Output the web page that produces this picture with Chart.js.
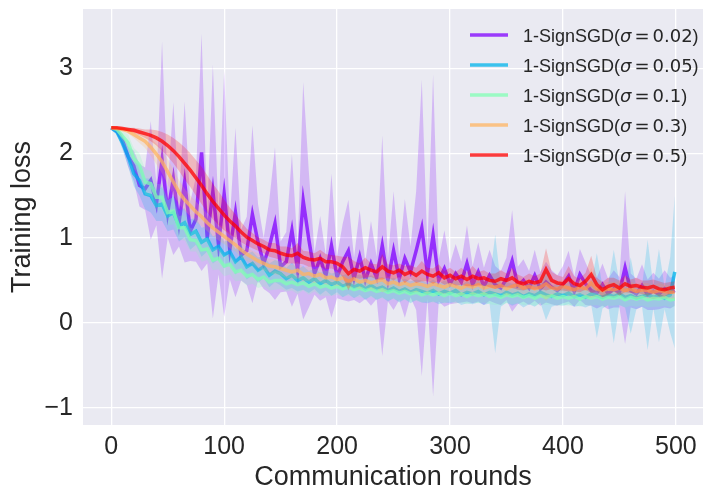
<!DOCTYPE html>
<html lang="en">
<head>
<meta charset="UTF-8">
<title>Training loss</title>
<script src="https://cdn.jsdelivr.net/npm/chart.js"></script>
<style>
  html, body { margin: 0; padding: 0; background: #fff; }
  canvas { display: block; }
</style>
</head>
<body>
<canvas id="lossChart" width="716" height="502"></canvas>
<script>
// communication rounds sampled every 5 (plus the last one)
const rounds = Array.from({length: 100}, (_, i) => i * 5).concat([499]);

const sigmas = ['0.02', '0.05', '0.1', '0.3', '0.5'];
const xTicks = [0, 100, 200, 300, 400, 500];
const yTicks = [-1, 0, 1, 2, 3];

// mean training loss, one value per entry of rounds
const lossS002 = [
  2.30,2.26,2.15,1.96,1.85,1.62,1.58,1.68,1.40,1.92,
  1.30,1.70,1.18,1.66,1.08,1.22,2.01,1.00,1.55,0.92,
  1.52,0.86,1.30,0.80,0.85,1.28,0.95,0.70,0.90,1.17,
  0.66,0.72,1.09,0.62,1.44,0.98,0.58,0.76,0.55,0.91,
  0.54,0.72,0.85,0.52,0.78,0.50,0.70,0.53,0.91,0.50,
  0.85,0.52,0.76,0.60,0.85,1.12,0.58,1.03,0.50,0.64,
  0.46,0.58,0.48,0.70,0.45,0.60,0.43,0.56,0.45,0.41,
  0.52,0.73,0.44,0.50,0.41,0.56,0.40,0.48,0.42,0.38,
  0.45,0.55,0.37,0.57,0.46,0.38,0.35,0.45,0.34,0.40,
  0.36,0.65,0.38,0.34,0.44,0.33,0.37,0.34,0.40,0.35,
  0.38];
const lossS005 = [
  2.30,2.25,2.12,1.96,1.76,1.68,1.52,1.50,1.38,1.40,
  1.26,1.30,1.14,1.18,1.04,1.08,0.95,0.99,0.86,0.90,
  0.80,0.84,0.72,0.78,0.66,0.70,0.62,0.66,0.56,0.61,
  0.58,0.52,0.56,0.50,0.53,0.48,0.52,0.46,0.50,0.45,
  0.48,0.43,0.46,0.42,0.45,0.40,0.44,0.40,0.42,0.38,
  0.41,0.37,0.40,0.36,0.39,0.37,0.35,0.38,0.34,0.37,
  0.35,0.38,0.33,0.36,0.34,0.37,0.33,0.36,0.34,0.32,
  0.36,0.33,0.35,0.31,0.34,0.32,0.36,0.33,0.31,0.34,
  0.32,0.35,0.31,0.33,0.30,0.34,0.32,0.30,0.33,0.31,
  0.34,0.30,0.32,0.29,0.31,0.33,0.30,0.32,0.29,0.33,
  0.60];
const lossS01 = [
  2.30,2.28,2.20,2.12,1.94,1.86,1.66,1.64,1.48,1.48,
  1.30,1.32,1.12,1.12,0.98,0.97,0.86,0.87,0.74,0.76,
  0.67,0.69,0.60,0.62,0.55,0.57,0.51,0.54,0.48,0.50,
  0.50,0.46,0.48,0.45,0.47,0.43,0.46,0.42,0.44,0.41,
  0.43,0.40,0.42,0.39,0.41,0.38,0.40,0.37,0.39,0.36,
  0.38,0.35,0.37,0.34,0.36,0.33,0.35,0.33,0.35,0.32,
  0.35,0.32,0.34,0.31,0.34,0.32,0.34,0.31,0.33,0.30,
  0.33,0.31,0.33,0.30,0.32,0.29,0.32,0.30,0.32,0.29,
  0.31,0.29,0.31,0.28,0.31,0.29,0.31,0.28,0.30,0.29,
  0.31,0.27,0.30,0.28,0.30,0.27,0.29,0.28,0.30,0.27,
  0.28];
const lossS03 = [
  2.30,2.29,2.28,2.26,2.22,2.18,2.14,2.07,1.99,1.90,
  1.78,1.66,1.54,1.45,1.38,1.31,1.25,1.18,1.12,1.07,
  1.02,0.97,0.92,0.86,0.81,0.77,0.73,0.70,0.67,0.66,
  0.64,0.62,0.60,0.62,0.57,0.58,0.55,0.57,0.53,0.54,
  0.51,0.53,0.49,0.52,0.48,0.50,0.47,0.49,0.51,0.46,
  0.48,0.45,0.47,0.44,0.46,0.45,0.43,0.46,0.44,0.42,
  0.45,0.43,0.41,0.44,0.42,0.45,0.41,0.43,0.42,0.44,
  0.40,0.43,0.45,0.41,0.43,0.40,0.42,0.46,0.41,0.40,
  0.43,0.41,0.39,0.42,0.40,0.47,0.40,0.38,0.40,0.39,
  0.41,0.38,0.40,0.37,0.39,0.38,0.36,0.38,0.37,0.36,
  0.36];
const lossS05 = [
  2.30,2.30,2.29,2.28,2.27,2.25,2.23,2.21,2.18,2.14,
  2.09,2.03,1.96,1.88,1.80,1.71,1.62,1.52,1.43,1.35,
  1.27,1.20,1.14,1.07,1.01,0.97,0.93,0.90,0.86,0.85,
  0.82,0.80,0.79,0.82,0.77,0.75,0.74,0.76,0.72,0.72,
  0.70,0.66,0.58,0.63,0.61,0.65,0.62,0.60,0.66,0.61,
  0.59,0.62,0.57,0.60,0.56,0.61,0.57,0.55,0.59,0.53,
  0.56,0.52,0.55,0.51,0.55,0.52,0.53,0.50,0.49,0.52,
  0.50,0.53,0.48,0.46,0.49,0.47,0.49,0.63,0.50,0.47,
  0.46,0.52,0.46,0.44,0.49,0.57,0.45,0.39,0.43,0.45,
  0.41,0.46,0.43,0.44,0.42,0.41,0.43,0.40,0.39,0.41,
  0.42];

// spread of the shaded band (mean +/- spread)
const spreadS002 = [
  0.00,0.03,0.08,0.12,0.18,0.25,0.25,0.70,0.25,1.40,
  0.30,0.90,0.28,0.95,0.35,0.50,1.40,0.30,1.50,0.35,
  1.45,0.35,1.00,0.30,0.40,1.05,0.45,0.30,0.55,0.90,
  0.30,0.35,0.90,0.28,1.40,0.80,0.25,0.50,0.25,0.85,
  0.25,0.45,0.60,0.25,0.55,0.22,0.50,0.25,1.30,0.25,
  0.70,0.25,0.70,0.30,0.70,1.75,0.30,1.90,0.25,0.45,
  0.24,0.35,0.24,0.45,0.22,0.35,0.22,0.30,0.22,0.20,
  0.25,0.60,0.22,0.25,0.20,0.30,0.20,0.24,0.20,0.18,
  0.22,0.30,0.18,0.30,0.25,0.18,0.18,0.25,0.18,0.22,
  0.18,0.90,0.20,0.18,0.25,0.18,0.22,0.18,0.22,0.18,
  0.18];
const spreadS005 = [
  0.00,0.03,0.08,0.12,0.15,0.18,0.18,0.20,0.18,0.20,
  0.18,0.20,0.18,0.17,0.18,0.16,0.17,0.15,0.16,0.15,
  0.16,0.14,0.15,0.14,0.15,0.14,0.15,0.13,0.14,0.13,
  0.14,0.13,0.15,0.13,0.14,0.13,0.12,0.13,0.12,0.13,
  0.12,0.13,0.12,0.13,0.12,0.13,0.12,0.13,0.12,0.13,
  0.12,0.13,0.12,0.13,0.12,0.13,0.12,0.13,0.12,0.13,
  0.12,0.13,0.12,0.13,0.12,0.13,0.12,0.13,0.70,0.13,
  0.12,0.13,0.12,0.13,0.12,0.13,0.12,0.30,0.12,0.13,
  0.12,0.13,0.12,0.13,0.12,0.13,0.50,0.13,0.12,0.55,
  0.13,0.12,0.45,0.13,0.12,0.65,0.13,0.55,0.13,0.45,
  0.90];
const spreadS01 = [
  0.00,0.02,0.06,0.10,0.12,0.14,0.15,0.15,0.16,0.15,
  0.15,0.16,0.14,0.15,0.14,0.13,0.14,0.13,0.12,0.13,
  0.12,0.12,0.11,0.12,0.11,0.11,0.10,0.11,0.10,0.11,
  0.10,0.09,0.10,0.11,0.09,0.10,0.09,0.10,0.12,0.09,
  0.10,0.09,0.10,0.09,0.11,0.09,0.10,0.09,0.10,0.09,
  0.10,0.09,0.10,0.09,0.10,0.09,0.10,0.09,0.10,0.09,
  0.10,0.09,0.10,0.09,0.10,0.09,0.10,0.09,0.12,0.09,
  0.10,0.09,0.10,0.09,0.10,0.09,0.10,0.09,0.10,0.09,
  0.10,0.09,0.10,0.09,0.10,0.09,0.10,0.09,0.10,0.09,
  0.10,0.09,0.10,0.09,0.10,0.09,0.10,0.09,0.10,0.09,
  0.09];
const spreadS03 = [
  0.00,0.01,0.02,0.03,0.04,0.06,0.08,0.10,0.12,0.14,
  0.15,0.15,0.14,0.13,0.12,0.12,0.11,0.10,0.10,0.10,
  0.09,0.09,0.08,0.09,0.08,0.08,0.09,0.08,0.08,0.09,
  0.08,0.09,0.08,0.10,0.08,0.09,0.08,0.09,0.08,0.09,
  0.08,0.09,0.08,0.10,0.08,0.09,0.08,0.09,0.15,0.08,
  0.09,0.08,0.09,0.08,0.10,0.08,0.09,0.08,0.09,0.08,
  0.09,0.08,0.09,0.08,0.09,0.10,0.08,0.09,0.08,0.09,
  0.08,0.09,0.12,0.08,0.09,0.08,0.09,0.20,0.08,0.09,
  0.08,0.09,0.08,0.09,0.08,0.18,0.08,0.09,0.08,0.09,
  0.08,0.09,0.08,0.09,0.08,0.09,0.08,0.09,0.08,0.08,
  0.08];
const spreadS05 = [
  0.00,0.01,0.01,0.02,0.03,0.04,0.05,0.07,0.09,0.11,
  0.13,0.15,0.17,0.19,0.20,0.21,0.22,0.22,0.21,0.20,
  0.18,0.16,0.14,0.12,0.10,0.09,0.08,0.08,0.08,0.09,
  0.08,0.10,0.09,0.12,0.08,0.09,0.08,0.10,0.09,0.08,
  0.09,0.12,0.20,0.10,0.09,0.12,0.08,0.09,0.15,0.08,
  0.09,0.08,0.10,0.08,0.09,0.12,0.08,0.09,0.10,0.08,
  0.09,0.08,0.10,0.08,0.12,0.08,0.09,0.08,0.09,0.10,
  0.08,0.12,0.09,0.08,0.09,0.08,0.09,0.25,0.10,0.09,
  0.08,0.15,0.09,0.08,0.10,0.22,0.08,0.09,0.10,0.08,
  0.09,0.10,0.08,0.09,0.08,0.09,0.08,0.09,0.08,0.07,
  0.07];

const series = [
  {sigma: sigmas[0], mean: lossS002, spread: spreadS002, rgb: [128, 0, 255]},
  {sigma: sigmas[1], mean: lossS005, spread: spreadS005, rgb: [0, 180, 235]},
  {sigma: sigmas[2], mean: lossS01, spread: spreadS01, rgb: [128, 255, 180]},
  {sigma: sigmas[3], mean: lossS03, spread: spreadS03, rgb: [255, 180, 98]},
  {sigma: sigmas[4], mean: lossS05, spread: spreadS05, rgb: [255, 0, 0]}
];

const rgba = (c, a) => `rgba(${c[0]},${c[1]},${c[2]},${a})`;
const pts = (ys) => ys.map((y, i) => ({x: rounds[i], y: y}));

// each series: line, then its band drawn on top (like matplotlib plot + fill_between)
const datasets = [];
series.forEach((s, k) => {
  const base = 10 - 2 * k;
  datasets.push({
    label: `1-SignSGD(σ = ${s.sigma})`,
    data: pts(s.mean),
    borderColor: rgba(s.rgb, 0.75),
    borderWidth: 3.5,
    pointRadius: 0,
    fill: false,
    order: base,
    isMain: true,
    rgb: s.rgb
  });
  const upperIdx = datasets.length;
  datasets.push({
    label: 'upper',
    data: pts(s.mean.map((m, i) => m + s.spread[i])),
    borderColor: 'rgba(0,0,0,0)',
    borderWidth: 0,
    pointRadius: 0,
    backgroundColor: rgba(s.rgb, 0.21),
    fill: upperIdx + 1,
    order: base - 1
  });
  datasets.push({
    label: 'lower',
    data: pts(s.mean.map((m, i) => m - s.spread[i])),
    borderColor: 'rgba(0,0,0,0)',
    borderWidth: 0,
    pointRadius: 0,
    fill: false,
    order: base - 1
  });
});

const textColor = '#262626';
const sans = "'Liberation Sans', Arial, sans-serif";

const plotBackground = {
  id: 'plotBackground',
  beforeDraw(chart) {
    const {ctx, chartArea: a} = chart;
    ctx.save();
    ctx.fillStyle = '#EAEAF2';
    ctx.fillRect(a.left, a.top, a.right - a.left, a.bottom - a.top);
    ctx.restore();
  }
};

const sigmaLegend = {
  id: 'sigmaLegend',
  afterDraw(chart) {
    const ctx = chart.ctx;
    const mains = chart.data.datasets.filter(d => d.isMain);
    ctx.save();
    mains.forEach((d, i) => {
      const yc = 35 + 30 * i;
      ctx.strokeStyle = rgba(d.rgb, 0.75);
      ctx.lineWidth = 3.5;
      ctx.beginPath();
      ctx.moveTo(470, yc);
      ctx.lineTo(508, yc);
      ctx.stroke();

      ctx.fillStyle = textColor;
      ctx.textBaseline = 'alphabetic';
      const base = yc + 6.5;
      let x = 523;
      ctx.font = `18px ${sans}`;
      ctx.fillText('1-SignSGD(', x, base);
      x += ctx.measureText('1-SignSGD(').width;
      ctx.font = "italic 18px 'DejaVu Sans'";
      ctx.fillText('σ', x, base);
      x += ctx.measureText('σ').width + 3;
      ctx.font = "18px 'DejaVu Sans'";
      ctx.fillText('=', x, base);
      x += ctx.measureText('=').width + 3;
      ctx.fillText(series[i].sigma, x, base);
      x += ctx.measureText(series[i].sigma).width;
      ctx.font = `18px ${sans}`;
      ctx.fillText(')', x, base);
    });
    ctx.restore();
  }
};

new Chart(document.getElementById('lossChart'), {
  type: 'line',
  data: {datasets: datasets},
  plugins: [plotBackground, sigmaLegend],
  options: {
    responsive: false,
    animation: false,
    devicePixelRatio: 1,
    layout: {padding: {top: 9, right: 13, left: 0, bottom: 0}},
    elements: {line: {tension: 0}},
    plugins: {
      legend: {display: false},
      tooltip: {enabled: false}
    },
    scales: {
      x: {
        type: 'linear',
        min: -25,
        max: 524,
        afterBuildTicks: (scale) => { scale.ticks = xTicks.map(v => ({value: v})); },
        afterFit: (scale) => {
          scale.height = 77;
          scale.paddingLeft = 0;
          scale.paddingRight = 0;
        },
        grid: {color: '#ffffff', lineWidth: 1.3, drawTicks: false},
        border: {display: false},
        ticks: {color: textColor, font: {family: sans, size: 25}, padding: 7, maxRotation: 0},
        title: {display: true, text: 'Communication rounds', color: textColor,
                font: {family: sans, size: 27}, padding: {top: 0, bottom: 8}}
      },
      y: {
        min: -1.205,
        max: 3.70,
        afterBuildTicks: (scale) => { scale.ticks = yTicks.map(v => ({value: v})); },
        afterFit: (scale) => {
          scale.width = 83;
          scale.paddingTop = 0;
          scale.paddingBottom = 0;
        },
        grid: {color: '#ffffff', lineWidth: 1.3, drawTicks: false},
        border: {display: false},
        ticks: {color: textColor, font: {family: sans, size: 25}, padding: 10,
                callback: (v) => String(v).replace('-', '\u2212')},
        title: {display: true, text: 'Training loss', color: textColor,
                font: {family: sans, size: 27}, padding: {top: 6, bottom: 0}}
      }
    }
  }
});
</script>
</body>
</html>
